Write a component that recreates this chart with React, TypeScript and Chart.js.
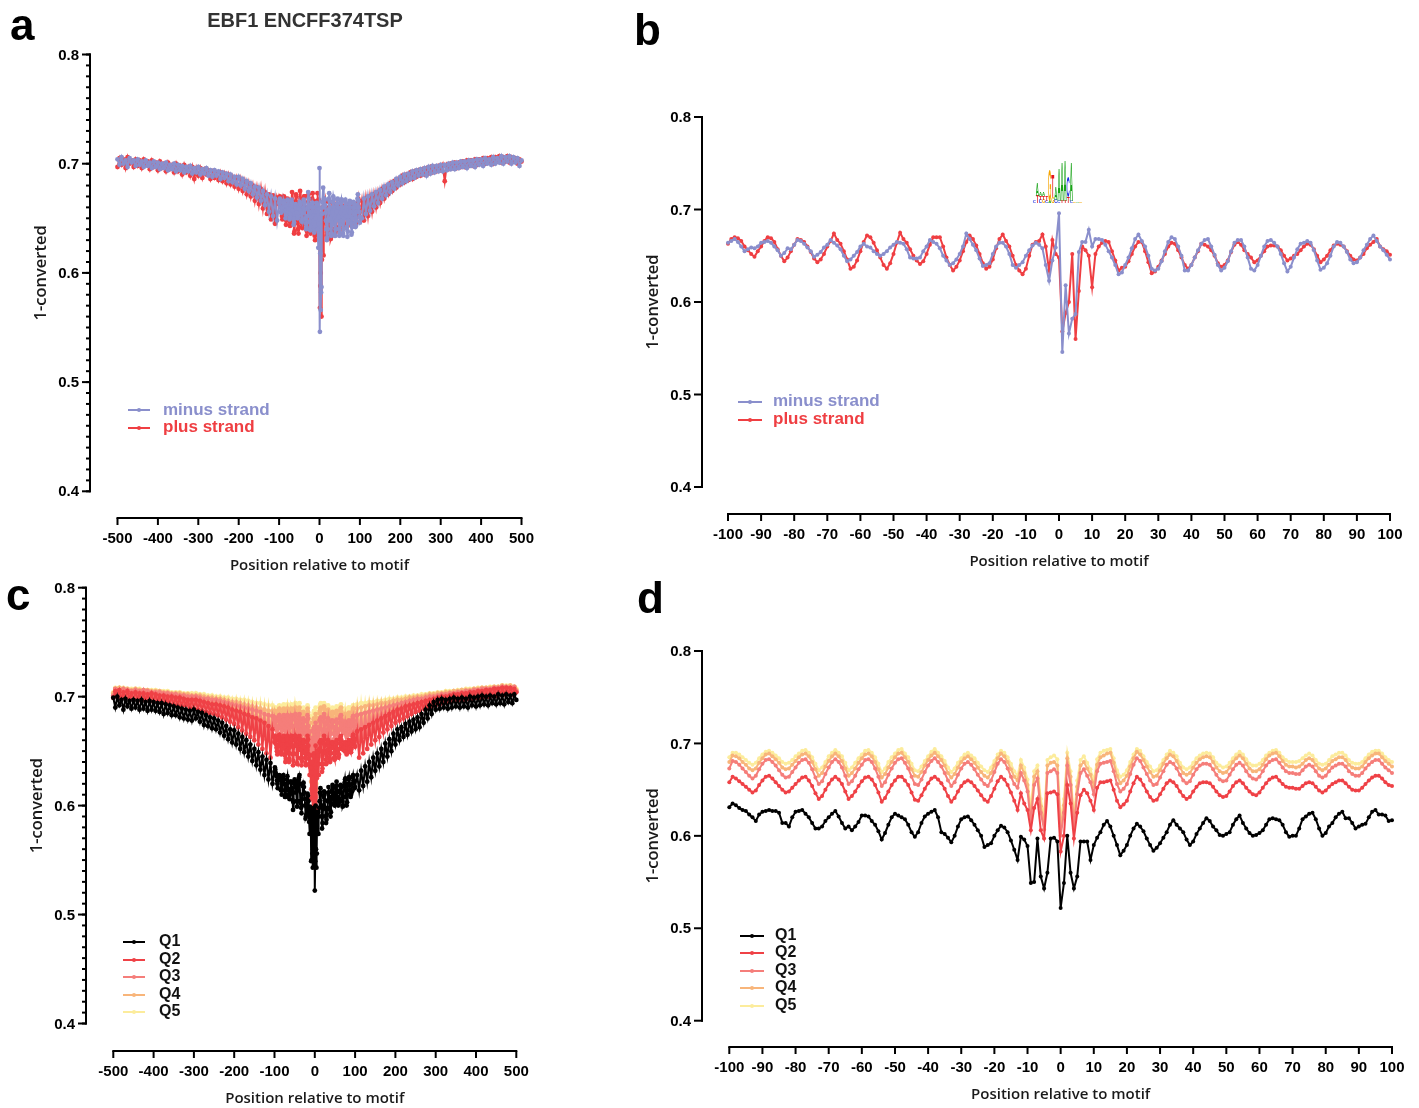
import React, { useEffect, useRef } from "react";
import { Chart, registerables } from "chart.js";
Chart.register(...registerables);

const W = 1419;
const H = 1108;

// ---------- positions (x categories) ----------
const POS_FINE: number[] = [];
for (let p = -100; p <= 100; p++) POS_FINE.push(p);
const POS_LEFT: number[] = [];
for (let p = -500; p <= -105; p += 5) POS_LEFT.push(p);
const POS_RIGHT: number[] = [];
for (let p = 105; p <= 500; p += 5) POS_RIGHT.push(p);

// ---------- tick labels ----------
const Y_TICKS = [0.4, 0.5, 0.6, 0.7, 0.8];
const Y_TICK_LABELS = ["0.4", "0.5", "0.6", "0.7", "0.8"];
const X_TICKS_WIDE = [-500, -400, -300, -200, -100, 0, 100, 200, 300, 400, 500];
const X_TICKS_NARROW = [-100, -90, -80, -70, -60, -50, -40, -30, -20, -10, 0, 10, 20, 30, 40, 50, 60, 70, 80, 90, 100];
const X_TITLE = "Position relative to motif";
const Y_TITLE = "1-converted";
const PANEL_TITLE = "EBF1 ENCFF374TSP";

// ---------- colours ----------
const MINUS_COLOR = "#8a8fcc";
const PLUS_COLOR = "#ef3e42";
const Q_COLORS = ["#000000", "#ef4146", "#f57e7a", "#f8b57a", "#fcec9c"];

// ---------- panel b data: minus / plus strand, positions -100..100 ----------
const MINUS_B = [
  0.664, 0.666, 0.668, 0.665, 0.660, 0.655, 0.657, 0.659, 0.658, 0.660,
  0.664, 0.665, 0.666, 0.664, 0.660, 0.656, 0.650, 0.653, 0.658, 0.657,
  0.662, 0.667, 0.666, 0.663, 0.659, 0.655, 0.649, 0.651, 0.654, 0.659,
  0.662, 0.667, 0.664, 0.661, 0.657, 0.650, 0.644, 0.646, 0.650, 0.654,
  0.660, 0.663, 0.660, 0.659, 0.655, 0.652, 0.650, 0.652, 0.655, 0.659,
  0.662, 0.665, 0.664, 0.663, 0.657, 0.648, 0.647, 0.647, 0.648, 0.655,
  0.660, 0.667, 0.665, 0.663, 0.658, 0.650, 0.645, 0.640, 0.642, 0.646,
  0.652, 0.660, 0.674, 0.668, 0.662, 0.656, 0.647, 0.639, 0.640, 0.642,
  0.652, 0.660, 0.664, 0.664, 0.660, 0.652, 0.640, 0.637, 0.640, 0.643,
  0.650, 0.656, 0.661, 0.664, 0.662, 0.658, 0.640, 0.623, 0.645, 0.659,
  0.696, 0.546, 0.618, 0.566, 0.582, 0.587, 0.654, 0.665, 0.665, 0.678,
  0.660, 0.668, 0.668, 0.667, 0.662, 0.655, 0.648, 0.640, 0.630, 0.632,
  0.640, 0.648, 0.658, 0.668, 0.673, 0.666, 0.660, 0.650, 0.636, 0.634,
  0.636, 0.644, 0.655, 0.665, 0.670, 0.668, 0.660, 0.650, 0.634, 0.634,
  0.640, 0.648, 0.656, 0.663, 0.667, 0.668, 0.660, 0.651, 0.640, 0.634,
  0.637, 0.644, 0.655, 0.664, 0.667, 0.667, 0.660, 0.648, 0.636, 0.634,
  0.640, 0.650, 0.660, 0.666, 0.667, 0.664, 0.660, 0.652, 0.642, 0.633,
  0.638, 0.648, 0.657, 0.663, 0.664, 0.666, 0.664, 0.656, 0.645, 0.635,
  0.637, 0.642, 0.650, 0.660, 0.665, 0.664, 0.660, 0.654, 0.646, 0.642,
  0.643, 0.648, 0.656, 0.662, 0.668, 0.672, 0.666, 0.660, 0.656, 0.651, 0.646,
];
const PLUS_B = [
  0.663, 0.668, 0.670, 0.669, 0.666, 0.660, 0.656, 0.652, 0.649, 0.655,
  0.660, 0.666, 0.670, 0.669, 0.665, 0.657, 0.650, 0.644, 0.648, 0.655,
  0.662, 0.668, 0.667, 0.665, 0.660, 0.654, 0.647, 0.643, 0.646, 0.652,
  0.660, 0.666, 0.674, 0.667, 0.663, 0.655, 0.646, 0.636, 0.638, 0.645,
  0.655, 0.665, 0.672, 0.670, 0.664, 0.656, 0.648, 0.640, 0.636, 0.642,
  0.652, 0.664, 0.675, 0.668, 0.664, 0.657, 0.650, 0.645, 0.641, 0.644,
  0.652, 0.662, 0.670, 0.670, 0.670, 0.660, 0.648, 0.640, 0.634, 0.638,
  0.645, 0.655, 0.665, 0.672, 0.668, 0.661, 0.652, 0.642, 0.636, 0.638,
  0.646, 0.658, 0.668, 0.673, 0.666, 0.660, 0.650, 0.640, 0.634, 0.630,
  0.636, 0.650, 0.662, 0.665, 0.666, 0.673, 0.660, 0.634, 0.667, 0.652,
  0.648, 0.568, 0.588, 0.600, 0.652, 0.560, 0.612, 0.660, 0.656, 0.650,
  0.616, 0.652, 0.660, 0.664, 0.666, 0.665, 0.655, 0.645, 0.634, 0.637,
  0.638, 0.644, 0.652, 0.660, 0.665, 0.665, 0.655, 0.643, 0.631, 0.633,
  0.638, 0.645, 0.652, 0.660, 0.664, 0.663, 0.656, 0.648, 0.640, 0.636,
  0.640, 0.648, 0.655, 0.663, 0.662, 0.660, 0.656, 0.650, 0.642, 0.638,
  0.640, 0.645, 0.654, 0.662, 0.665, 0.662, 0.656, 0.652, 0.648, 0.643,
  0.645, 0.650, 0.655, 0.660, 0.661, 0.661, 0.660, 0.656, 0.650, 0.645,
  0.647, 0.650, 0.652, 0.656, 0.660, 0.663, 0.662, 0.657, 0.650, 0.643,
  0.646, 0.650, 0.656, 0.661, 0.663, 0.662, 0.660, 0.655, 0.650, 0.646,
  0.645, 0.648, 0.652, 0.658, 0.662, 0.665, 0.668, 0.660, 0.657, 0.655, 0.651,
];

// ---------- panel a outer data (every 5 bp beyond +-100) ----------
const MINUS_A_LEFT = [
  0.704, 0.699, 0.706, 0.700, 0.703, 0.697, 0.705, 0.701, 0.703, 0.698,
  0.704, 0.699, 0.702, 0.697, 0.703, 0.698, 0.701, 0.696, 0.702, 0.697,
  0.701, 0.695, 0.700, 0.696, 0.701, 0.694, 0.699, 0.695, 0.700, 0.693,
  0.699, 0.694, 0.698, 0.692, 0.697, 0.693, 0.698, 0.691, 0.696, 0.692,
  0.697, 0.690, 0.695, 0.691, 0.696, 0.689, 0.694, 0.688, 0.694, 0.689,
  0.693, 0.686, 0.692, 0.687, 0.691, 0.684, 0.690, 0.683, 0.688, 0.681,
  0.688, 0.680, 0.686, 0.677, 0.684, 0.675, 0.682, 0.672, 0.679, 0.669,
  0.678, 0.666, 0.675, 0.662, 0.672, 0.656, 0.670, 0.652, 0.668, 0.648,
];
const PLUS_A_LEFT = [
  0.697, 0.705, 0.699, 0.704, 0.696, 0.706, 0.700, 0.703, 0.697, 0.704,
  0.698, 0.703, 0.696, 0.704, 0.699, 0.702, 0.695, 0.703, 0.697, 0.701,
  0.694, 0.702, 0.696, 0.700, 0.693, 0.701, 0.695, 0.699, 0.692, 0.700,
  0.693, 0.698, 0.690, 0.699, 0.692, 0.697, 0.689, 0.697, 0.686, 0.696,
  0.689, 0.696, 0.687, 0.695, 0.690, 0.694, 0.686, 0.693, 0.687, 0.692,
  0.685, 0.692, 0.684, 0.691, 0.682, 0.690, 0.681, 0.688, 0.679, 0.687,
  0.677, 0.686, 0.675, 0.684, 0.672, 0.682, 0.670, 0.680, 0.666, 0.678,
  0.663, 0.677, 0.659, 0.674, 0.654, 0.672, 0.649, 0.671, 0.645, 0.669,
];
const MINUS_A_RIGHT = [
  0.650, 0.668, 0.654, 0.670, 0.657, 0.672, 0.661, 0.674, 0.664, 0.676,
  0.668, 0.679, 0.671, 0.681, 0.674, 0.683, 0.677, 0.686, 0.680, 0.688,
  0.682, 0.690, 0.684, 0.691, 0.686, 0.693, 0.687, 0.694, 0.689, 0.695,
  0.690, 0.696, 0.689, 0.697, 0.691, 0.698, 0.692, 0.698, 0.693, 0.699,
  0.693, 0.699, 0.694, 0.700, 0.695, 0.701, 0.695, 0.701, 0.696, 0.702,
  0.697, 0.702, 0.696, 0.703, 0.698, 0.703, 0.697, 0.704, 0.699, 0.704,
  0.698, 0.705, 0.700, 0.704, 0.699, 0.706, 0.700, 0.705, 0.701, 0.707,
  0.700, 0.706, 0.702, 0.707, 0.700, 0.706, 0.701, 0.705, 0.698, 0.703,
];
const PLUS_A_RIGHT = [
  0.666, 0.648, 0.668, 0.652, 0.670, 0.656, 0.672, 0.660, 0.674, 0.664,
  0.677, 0.668, 0.679, 0.672, 0.682, 0.675, 0.684, 0.678, 0.686, 0.681,
  0.689, 0.683, 0.690, 0.685, 0.692, 0.686, 0.693, 0.688, 0.694, 0.689,
  0.695, 0.690, 0.696, 0.691, 0.697, 0.692, 0.697, 0.693, 0.698, 0.694,
  0.699, 0.684, 0.699, 0.695, 0.700, 0.696, 0.701, 0.696, 0.701, 0.697,
  0.702, 0.697, 0.703, 0.698, 0.703, 0.698, 0.704, 0.699, 0.704, 0.700,
  0.705, 0.700, 0.705, 0.701, 0.706, 0.700, 0.706, 0.702, 0.707, 0.701,
  0.706, 0.702, 0.707, 0.701, 0.706, 0.702, 0.705, 0.700, 0.704, 0.702,
];

// ---------- panel d data: Q1..Q5, positions -100..100 ----------
const Q1_D = [
  0.631, 0.635, 0.633, 0.630, 0.628, 0.627, 0.623, 0.620, 0.616, 0.623,
  0.626, 0.627, 0.628, 0.627, 0.627, 0.625, 0.614, 0.614, 0.610, 0.620,
  0.626, 0.627, 0.628, 0.624, 0.620, 0.614, 0.608, 0.608, 0.610, 0.616,
  0.620, 0.624, 0.627, 0.621, 0.614, 0.608, 0.610, 0.606, 0.610, 0.615,
  0.622, 0.622, 0.621, 0.616, 0.612, 0.605, 0.596, 0.603, 0.612, 0.620,
  0.624, 0.622, 0.620, 0.618, 0.612, 0.604, 0.599, 0.604, 0.614, 0.621,
  0.624, 0.626, 0.628, 0.620, 0.604, 0.602, 0.598, 0.593, 0.600, 0.610,
  0.618, 0.620, 0.621, 0.617, 0.612, 0.606, 0.600, 0.588, 0.590, 0.592,
  0.600, 0.606, 0.611, 0.609, 0.604, 0.595, 0.585, 0.574, 0.599, 0.596,
  0.589, 0.549, 0.550, 0.597, 0.556, 0.543, 0.560, 0.597, 0.598, 0.594,
  0.522, 0.549, 0.600, 0.560, 0.543, 0.556, 0.594, 0.594, 0.594, 0.574,
  0.590, 0.598, 0.604, 0.612, 0.616, 0.610, 0.600, 0.590, 0.579, 0.584,
  0.590, 0.600, 0.608, 0.613, 0.610, 0.605, 0.597, 0.590, 0.584, 0.587,
  0.592, 0.598, 0.604, 0.612, 0.617, 0.612, 0.608, 0.604, 0.596, 0.590,
  0.594, 0.602, 0.608, 0.614, 0.619, 0.616, 0.610, 0.606, 0.601, 0.600,
  0.602, 0.604, 0.612, 0.618, 0.622, 0.614, 0.608, 0.603, 0.600, 0.601,
  0.603, 0.606, 0.612, 0.618, 0.619, 0.618, 0.617, 0.612, 0.604, 0.599,
  0.600, 0.600, 0.608, 0.618, 0.621, 0.624, 0.625, 0.618, 0.608, 0.600,
  0.603, 0.610, 0.614, 0.620, 0.624, 0.626, 0.619, 0.619, 0.614, 0.608,
  0.610, 0.612, 0.613, 0.620, 0.626, 0.628, 0.623, 0.623, 0.622, 0.616, 0.617,
];
const Q2_D = [
  0.658, 0.664, 0.662, 0.659, 0.656, 0.653, 0.650, 0.647, 0.649, 0.655,
  0.660, 0.664, 0.665, 0.662, 0.658, 0.654, 0.650, 0.647, 0.648, 0.652,
  0.656, 0.660, 0.663, 0.664, 0.660, 0.654, 0.646, 0.640, 0.643, 0.650,
  0.656, 0.661, 0.664, 0.661, 0.656, 0.648, 0.640, 0.643, 0.648, 0.654,
  0.659, 0.663, 0.664, 0.661, 0.655, 0.647, 0.637, 0.641, 0.648, 0.655,
  0.660, 0.664, 0.664, 0.660, 0.655, 0.647, 0.639, 0.638, 0.644, 0.651,
  0.657, 0.662, 0.664, 0.661, 0.657, 0.651, 0.643, 0.637, 0.641, 0.648,
  0.654, 0.658, 0.660, 0.658, 0.654, 0.649, 0.644, 0.639, 0.637, 0.643,
  0.651, 0.659, 0.664, 0.661, 0.655, 0.647, 0.638, 0.628, 0.646, 0.635,
  0.628, 0.606, 0.630, 0.640, 0.606, 0.597, 0.646, 0.647, 0.648, 0.645,
  0.583, 0.600, 0.655, 0.635, 0.597, 0.625, 0.644, 0.650, 0.646, 0.638,
  0.628, 0.652, 0.658, 0.658, 0.659, 0.660, 0.650, 0.638, 0.631, 0.634,
  0.638, 0.648, 0.657, 0.664, 0.661, 0.655, 0.648, 0.642, 0.638, 0.639,
  0.645, 0.651, 0.657, 0.660, 0.658, 0.654, 0.648, 0.643, 0.640, 0.642,
  0.648, 0.653, 0.657, 0.658, 0.658, 0.657, 0.653, 0.648, 0.644, 0.642,
  0.643, 0.648, 0.654, 0.658, 0.660, 0.657, 0.652, 0.648, 0.645, 0.644,
  0.647, 0.652, 0.657, 0.661, 0.663, 0.664, 0.660, 0.656, 0.653, 0.652,
  0.652, 0.651, 0.651, 0.654, 0.657, 0.658, 0.657, 0.653, 0.649, 0.647,
  0.649, 0.653, 0.656, 0.658, 0.660, 0.660, 0.657, 0.653, 0.650, 0.649,
  0.649, 0.652, 0.656, 0.660, 0.663, 0.665, 0.665, 0.662, 0.658, 0.655, 0.654,
];
const Q3_D = [
  0.673, 0.681, 0.680, 0.677, 0.673, 0.669, 0.665, 0.662, 0.665, 0.672,
  0.678, 0.682, 0.683, 0.680, 0.676, 0.671, 0.666, 0.663, 0.664, 0.669,
  0.674, 0.679, 0.682, 0.683, 0.679, 0.672, 0.663, 0.656, 0.659, 0.667,
  0.674, 0.680, 0.683, 0.680, 0.674, 0.665, 0.656, 0.659, 0.665, 0.672,
  0.677, 0.682, 0.683, 0.680, 0.673, 0.664, 0.654, 0.658, 0.666, 0.673,
  0.679, 0.683, 0.684, 0.679, 0.673, 0.664, 0.656, 0.655, 0.661, 0.669,
  0.676, 0.681, 0.684, 0.680, 0.675, 0.668, 0.660, 0.654, 0.658, 0.666,
  0.673, 0.678, 0.680, 0.677, 0.672, 0.666, 0.661, 0.656, 0.654, 0.660,
  0.669, 0.678, 0.683, 0.680, 0.673, 0.664, 0.656, 0.652, 0.668, 0.660,
  0.648, 0.615, 0.655, 0.662, 0.625, 0.607, 0.668, 0.670, 0.672, 0.668,
  0.600, 0.625, 0.676, 0.655, 0.608, 0.645, 0.668, 0.672, 0.665, 0.658,
  0.645, 0.670, 0.678, 0.679, 0.680, 0.681, 0.670, 0.656, 0.648, 0.651,
  0.656, 0.667, 0.677, 0.684, 0.681, 0.674, 0.667, 0.660, 0.655, 0.656,
  0.663, 0.670, 0.677, 0.680, 0.678, 0.673, 0.666, 0.660, 0.657, 0.659,
  0.666, 0.672, 0.676, 0.678, 0.678, 0.677, 0.672, 0.666, 0.661, 0.659,
  0.660, 0.666, 0.672, 0.677, 0.679, 0.676, 0.670, 0.665, 0.662, 0.661,
  0.664, 0.670, 0.676, 0.680, 0.682, 0.683, 0.679, 0.674, 0.670, 0.668,
  0.668, 0.667, 0.667, 0.671, 0.675, 0.677, 0.675, 0.670, 0.665, 0.663,
  0.665, 0.670, 0.674, 0.676, 0.678, 0.678, 0.675, 0.670, 0.667, 0.665,
  0.665, 0.668, 0.673, 0.677, 0.680, 0.682, 0.682, 0.678, 0.674, 0.671, 0.668,
];
const Q4_D = [
  0.680, 0.687, 0.686, 0.684, 0.680, 0.677, 0.673, 0.671, 0.673, 0.679,
  0.684, 0.688, 0.689, 0.686, 0.683, 0.679, 0.674, 0.672, 0.673, 0.677,
  0.681, 0.685, 0.688, 0.689, 0.686, 0.680, 0.672, 0.665, 0.668, 0.675,
  0.681, 0.686, 0.689, 0.686, 0.681, 0.673, 0.665, 0.668, 0.673, 0.679,
  0.684, 0.688, 0.689, 0.686, 0.680, 0.672, 0.663, 0.667, 0.674, 0.680,
  0.685, 0.689, 0.690, 0.685, 0.680, 0.672, 0.665, 0.664, 0.669, 0.676,
  0.682, 0.687, 0.690, 0.686, 0.682, 0.676, 0.668, 0.663, 0.667, 0.674,
  0.680, 0.684, 0.686, 0.683, 0.679, 0.674, 0.669, 0.665, 0.663, 0.668,
  0.676, 0.684, 0.689, 0.686, 0.680, 0.672, 0.664, 0.660, 0.676, 0.668,
  0.655, 0.622, 0.664, 0.670, 0.632, 0.614, 0.676, 0.679, 0.680, 0.676,
  0.610, 0.633, 0.684, 0.664, 0.614, 0.653, 0.676, 0.680, 0.673, 0.666,
  0.654, 0.677, 0.685, 0.687, 0.689, 0.690, 0.679, 0.665, 0.657, 0.660,
  0.665, 0.675, 0.684, 0.691, 0.688, 0.682, 0.675, 0.669, 0.664, 0.665,
  0.671, 0.678, 0.684, 0.688, 0.686, 0.681, 0.674, 0.668, 0.666, 0.668,
  0.674, 0.679, 0.683, 0.685, 0.686, 0.685, 0.680, 0.674, 0.670, 0.668,
  0.669, 0.674, 0.680, 0.684, 0.687, 0.684, 0.678, 0.673, 0.670, 0.670,
  0.672, 0.677, 0.683, 0.687, 0.689, 0.690, 0.686, 0.681, 0.677, 0.675,
  0.675, 0.674, 0.675, 0.678, 0.682, 0.684, 0.682, 0.677, 0.673, 0.671,
  0.673, 0.677, 0.681, 0.683, 0.685, 0.685, 0.682, 0.677, 0.674, 0.673,
  0.673, 0.675, 0.680, 0.684, 0.687, 0.689, 0.689, 0.685, 0.681, 0.678, 0.675,
];
const Q5_D = [
  0.685, 0.690, 0.690, 0.688, 0.685, 0.682, 0.679, 0.677, 0.679, 0.684,
  0.688, 0.691, 0.692, 0.690, 0.687, 0.684, 0.680, 0.678, 0.679, 0.682,
  0.686, 0.689, 0.692, 0.693, 0.690, 0.685, 0.678, 0.671, 0.674, 0.680,
  0.686, 0.690, 0.693, 0.690, 0.686, 0.679, 0.671, 0.674, 0.679, 0.684,
  0.688, 0.692, 0.693, 0.690, 0.685, 0.678, 0.669, 0.673, 0.680, 0.685,
  0.689, 0.693, 0.694, 0.689, 0.685, 0.678, 0.671, 0.670, 0.675, 0.681,
  0.686, 0.691, 0.694, 0.690, 0.686, 0.681, 0.674, 0.669, 0.673, 0.679,
  0.684, 0.688, 0.690, 0.687, 0.684, 0.679, 0.675, 0.671, 0.669, 0.674,
  0.681, 0.688, 0.692, 0.690, 0.685, 0.678, 0.670, 0.665, 0.682, 0.674,
  0.661, 0.630, 0.670, 0.676, 0.640, 0.621, 0.682, 0.685, 0.687, 0.683,
  0.618, 0.640, 0.690, 0.670, 0.620, 0.660, 0.682, 0.686, 0.679, 0.672,
  0.660, 0.683, 0.690, 0.692, 0.693, 0.694, 0.684, 0.671, 0.664, 0.666,
  0.671, 0.680, 0.688, 0.694, 0.692, 0.686, 0.680, 0.675, 0.670, 0.671,
  0.676, 0.682, 0.688, 0.692, 0.690, 0.686, 0.679, 0.674, 0.672, 0.674,
  0.679, 0.684, 0.687, 0.689, 0.690, 0.689, 0.685, 0.679, 0.676, 0.674,
  0.675, 0.679, 0.684, 0.688, 0.691, 0.688, 0.683, 0.678, 0.676, 0.676,
  0.678, 0.682, 0.687, 0.690, 0.692, 0.693, 0.690, 0.685, 0.682, 0.680,
  0.680, 0.680, 0.681, 0.684, 0.687, 0.689, 0.687, 0.682, 0.678, 0.677,
  0.678, 0.682, 0.686, 0.688, 0.690, 0.690, 0.687, 0.682, 0.679, 0.678,
  0.678, 0.680, 0.684, 0.688, 0.691, 0.692, 0.692, 0.689, 0.685, 0.682, 0.680,
];

// ---------- panel c outer data (every 5 bp beyond +-100) ----------
const Q1_C_LEFT = [
  0.699, 0.690, 0.700, 0.692, 0.697, 0.688, 0.698, 0.691, 0.696, 0.689,
  0.697, 0.690, 0.696, 0.688, 0.697, 0.689, 0.695, 0.687, 0.696, 0.688,
  0.695, 0.687, 0.694, 0.686, 0.694, 0.684, 0.693, 0.685, 0.692, 0.683,
  0.691, 0.683, 0.690, 0.681, 0.689, 0.680, 0.688, 0.679, 0.687, 0.678,
  0.688, 0.680, 0.686, 0.677, 0.685, 0.674, 0.683, 0.673, 0.681, 0.671,
  0.680, 0.670, 0.678, 0.667, 0.676, 0.664, 0.673, 0.661, 0.670, 0.658,
  0.669, 0.656, 0.666, 0.652, 0.663, 0.649, 0.660, 0.645, 0.656, 0.641,
  0.652, 0.637, 0.649, 0.633, 0.645, 0.628, 0.642, 0.624, 0.639, 0.620,
];
const Q1_C_RIGHT = [
  0.628, 0.614, 0.632, 0.618, 0.636, 0.622, 0.640, 0.626, 0.644, 0.632,
  0.648, 0.636, 0.652, 0.640, 0.657, 0.645, 0.661, 0.650, 0.666, 0.656,
  0.670, 0.660, 0.672, 0.663, 0.675, 0.665, 0.677, 0.668, 0.679, 0.670,
  0.681, 0.672, 0.684, 0.676, 0.688, 0.680, 0.692, 0.684, 0.695, 0.688,
  0.697, 0.689, 0.698, 0.690, 0.697, 0.689, 0.698, 0.690, 0.699, 0.691,
  0.698, 0.690, 0.699, 0.691, 0.698, 0.690, 0.700, 0.692, 0.699, 0.691,
  0.700, 0.692, 0.701, 0.693, 0.700, 0.692, 0.701, 0.694, 0.700, 0.693,
  0.702, 0.694, 0.701, 0.693, 0.702, 0.695, 0.701, 0.694, 0.702, 0.697,
];
const Q2_C_LEFT = [
  0.699, 0.705, 0.700, 0.706, 0.698, 0.704, 0.699, 0.705, 0.698, 0.703,
  0.697, 0.704, 0.698, 0.703, 0.696, 0.703, 0.697, 0.702, 0.696, 0.703,
  0.695, 0.702, 0.696, 0.701, 0.694, 0.701, 0.695, 0.700, 0.693, 0.700,
  0.693, 0.699, 0.692, 0.699, 0.691, 0.698, 0.692, 0.697, 0.690, 0.697,
  0.689, 0.697, 0.688, 0.696, 0.687, 0.695, 0.686, 0.694, 0.685, 0.693,
  0.684, 0.693, 0.683, 0.692, 0.681, 0.691, 0.679, 0.690, 0.677, 0.688,
  0.675, 0.687, 0.672, 0.686, 0.669, 0.684, 0.666, 0.683, 0.663, 0.681,
  0.660, 0.680, 0.656, 0.678, 0.652, 0.676, 0.648, 0.673, 0.644, 0.670,
];
const Q2_C_RIGHT = [
  0.668, 0.644, 0.670, 0.648, 0.672, 0.652, 0.674, 0.656, 0.676, 0.660,
  0.678, 0.663, 0.680, 0.667, 0.682, 0.670, 0.684, 0.673, 0.686, 0.676,
  0.688, 0.678, 0.689, 0.680, 0.691, 0.682, 0.692, 0.684, 0.693, 0.686,
  0.694, 0.687, 0.695, 0.689, 0.696, 0.690, 0.697, 0.691, 0.698, 0.692,
  0.699, 0.693, 0.700, 0.694, 0.700, 0.695, 0.701, 0.696, 0.702, 0.696,
  0.702, 0.697, 0.703, 0.697, 0.703, 0.698, 0.704, 0.698, 0.704, 0.699,
  0.705, 0.699, 0.705, 0.700, 0.706, 0.700, 0.706, 0.701, 0.707, 0.701,
  0.707, 0.702, 0.708, 0.702, 0.708, 0.703, 0.708, 0.702, 0.707, 0.704,
];
const Q3_C_LEFT = [
  0.701, 0.707, 0.702, 0.706, 0.700, 0.707, 0.701, 0.706, 0.700, 0.705,
  0.700, 0.706, 0.701, 0.705, 0.699, 0.706, 0.700, 0.705, 0.699, 0.704,
  0.698, 0.704, 0.699, 0.704, 0.697, 0.703, 0.698, 0.703, 0.696, 0.702,
  0.696, 0.702, 0.695, 0.701, 0.694, 0.701, 0.695, 0.700, 0.693, 0.700,
  0.693, 0.700, 0.692, 0.699, 0.691, 0.698, 0.690, 0.698, 0.689, 0.697,
  0.688, 0.697, 0.687, 0.696, 0.686, 0.695, 0.684, 0.694, 0.683, 0.693,
  0.681, 0.692, 0.679, 0.691, 0.677, 0.690, 0.675, 0.689, 0.672, 0.688,
  0.670, 0.687, 0.667, 0.686, 0.664, 0.684, 0.661, 0.683, 0.659, 0.682,
];
const Q3_C_RIGHT = [
  0.683, 0.660, 0.684, 0.663, 0.685, 0.666, 0.686, 0.669, 0.687, 0.672,
  0.688, 0.675, 0.689, 0.677, 0.690, 0.679, 0.691, 0.681, 0.692, 0.683,
  0.693, 0.685, 0.694, 0.687, 0.695, 0.688, 0.696, 0.689, 0.697, 0.690,
  0.698, 0.691, 0.698, 0.692, 0.699, 0.693, 0.700, 0.694, 0.700, 0.695,
  0.701, 0.696, 0.702, 0.696, 0.702, 0.697, 0.703, 0.697, 0.703, 0.698,
  0.704, 0.698, 0.704, 0.699, 0.705, 0.699, 0.705, 0.700, 0.706, 0.700,
  0.706, 0.701, 0.707, 0.701, 0.707, 0.702, 0.707, 0.702, 0.708, 0.703,
  0.708, 0.703, 0.709, 0.703, 0.709, 0.704, 0.708, 0.704, 0.709, 0.705,
];
const Q4_C_LEFT = [
  0.703, 0.707, 0.703, 0.708, 0.702, 0.707, 0.703, 0.707, 0.702, 0.706,
  0.702, 0.707, 0.702, 0.706, 0.701, 0.706, 0.702, 0.706, 0.701, 0.705,
  0.700, 0.705, 0.701, 0.705, 0.699, 0.704, 0.700, 0.704, 0.699, 0.703,
  0.698, 0.703, 0.698, 0.703, 0.697, 0.702, 0.697, 0.702, 0.696, 0.701,
  0.695, 0.701, 0.695, 0.701, 0.694, 0.700, 0.693, 0.699, 0.692, 0.699,
  0.691, 0.698, 0.690, 0.698, 0.689, 0.697, 0.688, 0.696, 0.687, 0.695,
  0.685, 0.695, 0.684, 0.694, 0.682, 0.693, 0.680, 0.692, 0.678, 0.691,
  0.676, 0.690, 0.674, 0.689, 0.672, 0.688, 0.670, 0.687, 0.668, 0.687,
];
const Q4_C_RIGHT = [
  0.689, 0.667, 0.690, 0.670, 0.691, 0.673, 0.692, 0.676, 0.692, 0.678,
  0.693, 0.680, 0.694, 0.682, 0.694, 0.684, 0.695, 0.686, 0.696, 0.687,
  0.697, 0.689, 0.697, 0.690, 0.698, 0.691, 0.699, 0.692, 0.699, 0.693,
  0.700, 0.694, 0.700, 0.695, 0.701, 0.695, 0.702, 0.696, 0.702, 0.697,
  0.703, 0.697, 0.703, 0.698, 0.704, 0.698, 0.704, 0.699, 0.705, 0.699,
  0.705, 0.700, 0.706, 0.700, 0.706, 0.701, 0.706, 0.701, 0.707, 0.702,
  0.707, 0.702, 0.708, 0.703, 0.708, 0.703, 0.708, 0.704, 0.709, 0.704,
  0.709, 0.704, 0.710, 0.705, 0.709, 0.705, 0.710, 0.705, 0.709, 0.706,
];
const Q5_C_LEFT = [
  0.704, 0.708, 0.704, 0.708, 0.703, 0.708, 0.704, 0.707, 0.703, 0.707,
  0.703, 0.707, 0.703, 0.707, 0.702, 0.706, 0.703, 0.706, 0.702, 0.706,
  0.701, 0.706, 0.702, 0.705, 0.701, 0.705, 0.701, 0.705, 0.700, 0.704,
  0.700, 0.704, 0.699, 0.704, 0.699, 0.703, 0.699, 0.703, 0.698, 0.703,
  0.697, 0.703, 0.697, 0.702, 0.696, 0.702, 0.696, 0.701, 0.695, 0.701,
  0.694, 0.700, 0.693, 0.700, 0.692, 0.699, 0.692, 0.699, 0.691, 0.698,
  0.689, 0.698, 0.688, 0.697, 0.687, 0.697, 0.685, 0.696, 0.684, 0.695,
  0.682, 0.694, 0.680, 0.694, 0.679, 0.693, 0.677, 0.692, 0.675, 0.692,
];
const Q5_C_RIGHT = [
  0.693, 0.674, 0.694, 0.677, 0.694, 0.679, 0.695, 0.681, 0.695, 0.683,
  0.696, 0.685, 0.696, 0.687, 0.697, 0.688, 0.698, 0.690, 0.698, 0.691,
  0.699, 0.692, 0.699, 0.693, 0.700, 0.694, 0.700, 0.695, 0.701, 0.696,
  0.701, 0.696, 0.702, 0.697, 0.702, 0.698, 0.703, 0.698, 0.703, 0.699,
  0.704, 0.699, 0.704, 0.700, 0.705, 0.700, 0.705, 0.701, 0.705, 0.701,
  0.706, 0.701, 0.706, 0.702, 0.707, 0.702, 0.707, 0.703, 0.707, 0.703,
  0.708, 0.703, 0.708, 0.704, 0.708, 0.704, 0.709, 0.705, 0.709, 0.705,
  0.709, 0.705, 0.710, 0.705, 0.710, 0.706, 0.710, 0.706, 0.709, 0.707,
];

// ---------- motif logo (bits per letter, bottom to top) ----------
const LOGO_COLUMNS: [string, number][][] = [
  [["C", 0.1]],
  [["T", 0.35], ["A", 0.6]],
  [["C", 0.15], ["T", 0.2], ["A", 0.2]],
  [["G", 0.15], ["T", 0.2], ["A", 0.2]],
  [["C", 0.1], ["T", 0.25]],
  [["A", 0.1], ["G", 1.45]],
  [["G", 0.3], ["T", 1.0]],
  [["C", 0.15], ["A", 0.6]],
  [["C", 0.1], ["A", 1.5]],
  [["T", 0.1], ["A", 1.8]],
  [["T", 0.1], ["A", 1.85]],
  [["T", 0.3], ["C", 1.0]],
  [["C", 0.1], ["A", 1.8]],
  [["G", 0.05]],
  [["A", 0.06]],
  [["G", 0.05]],
];
const LOGO_COLORS: Record<string, string> = { A: "#17a317", C: "#1f2fe0", G: "#f5a400", T: "#e3141b" };

// ---------- helpers ----------
const pts = (xs: number[], ys: number[]) => ys.map((y, i) => ({ x: xs[i], y }));
const wide = (left: number[], fine: number[], right: number[]) => [
  ...pts(POS_LEFT, left),
  ...pts(POS_FINE, fine),
  ...pts(POS_RIGHT, right),
];

const TICK_FONT = 'bold 15px "Liberation Sans", Arial, sans-serif';
const X_TITLE_FONT = '600 15px "Open Sans", "Noto Sans", sans-serif';
const Y_TITLE_FONT = '600 16.5px "Open Sans", "Noto Sans", sans-serif';

const axesPlugin = {
  id: "offsetAxes",
  afterDraw(chart: any, _args: any, o: any) {
    if (!o || !o.enabled) return;
    const ctx = chart.ctx;
    const xs = chart.scales.x;
    const ys = chart.scales.y;
    ctx.save();
    ctx.strokeStyle = "#000";
    ctx.fillStyle = "#000";
    ctx.lineWidth = 2;
    const ax = o.yAxisX;
    const yTop = ys.getPixelForValue(Y_TICKS[Y_TICKS.length - 1]);
    const yBot = ys.getPixelForValue(Y_TICKS[0]);
    ctx.beginPath();
    ctx.moveTo(ax, yTop - 1);
    ctx.lineTo(ax, yBot + 1);
    ctx.stroke();
    if (o.minorStep) {
      const n = Math.round((Y_TICKS[Y_TICKS.length - 1] - Y_TICKS[0]) / o.minorStep);
      for (let i = 0; i <= n; i++) {
        const y = ys.getPixelForValue(Y_TICKS[0] + i * o.minorStep);
        ctx.beginPath();
        ctx.moveTo(ax, y);
        ctx.lineTo(ax - o.minorLen, y);
        ctx.stroke();
      }
    }
    ctx.font = TICK_FONT;
    ctx.textAlign = "right";
    ctx.textBaseline = "middle";
    Y_TICKS.forEach((t, i) => {
      const y = ys.getPixelForValue(t);
      ctx.beginPath();
      ctx.moveTo(ax + 1, y);
      ctx.lineTo(ax - o.majorLen, y);
      ctx.stroke();
      ctx.fillText(Y_TICK_LABELS[i], ax - o.majorLen - 3, y + 1);
    });
    // x axis
    const ay = o.xAxisY;
    const xt: number[] = o.xTicks;
    const xl = xs.getPixelForValue(xt[0]);
    const xr = xs.getPixelForValue(xt[xt.length - 1]);
    ctx.beginPath();
    ctx.moveTo(xl - 1, ay);
    ctx.lineTo(xr + 1, ay);
    ctx.stroke();
    ctx.textAlign = "center";
    xt.forEach((t) => {
      const x = xs.getPixelForValue(t);
      ctx.beginPath();
      ctx.moveTo(x, ay);
      ctx.lineTo(x, ay + 7);
      ctx.stroke();
      ctx.fillText(String(t), x, ay + 21);
    });
    // titles
    ctx.font = X_TITLE_FONT;
    ctx.fillStyle = "#1a1a1a";
    ctx.fillText(X_TITLE, (xl + xr) / 2, ay + 48);
    ctx.font = Y_TITLE_FONT;
    ctx.save();
    ctx.translate(ax - 49, (yTop + yBot) / 2);
    ctx.rotate(-Math.PI / 2);
    ctx.fillText(Y_TITLE, 0, 0);
    ctx.restore();
    ctx.restore();
  },
};

const logoPlugin = {
  id: "motifLogo",
  afterDatasetsDraw(chart: any, _args: any, o: any) {
    if (!o || !o.enabled) return;
    const ctx = chart.ctx;
    const xs = chart.scales.x;
    const ys = chart.scales.y;
    const x0 = xs.getPixelForValue(o.fromPos);
    const x1 = xs.getPixelForValue(o.toPos);
    const base = ys.getPixelForValue(o.baseValue);
    const top2 = ys.getPixelForValue(o.topValue);
    const pxPerBit = (base - top2) / 2;
    const colW = (x1 - x0) / LOGO_COLUMNS.length;
    ctx.save();
    ctx.font = 'bold 100px "Liberation Sans", Arial, sans-serif';
    ctx.textBaseline = "alphabetic";
    ctx.textAlign = "left";
    LOGO_COLUMNS.forEach((col, ci) => {
      let yb = base;
      col.forEach(([letter, bits]) => {
        const h = bits * pxPerBit;
        if (h < 0.3) return;
        const m = ctx.measureText(letter);
        const gw = m.actualBoundingBoxRight + m.actualBoundingBoxLeft;
        const gh = m.actualBoundingBoxAscent + m.actualBoundingBoxDescent;
        ctx.save();
        ctx.translate(x0 + ci * colW, yb);
        ctx.scale((colW * 0.95) / gw, h / gh);
        ctx.fillStyle = LOGO_COLORS[letter];
        ctx.fillText(letter, m.actualBoundingBoxLeft, -m.actualBoundingBoxDescent);
        ctx.restore();
        yb -= h;
      });
    });
    ctx.restore();
  },
};

type DS = { label: string; color: string; data: { x: number; y: number }[] };
type PanelCfg = {
  xMin: number;
  xMax: number;
  left: number;
  right: number;
  top: number;
  bottom: number;
  yAxisX: number;
  xAxisY: number;
  minorStep: number;
  majorLen: number;
  minorLen: number;
  xTicks: number[];
  pointRadius: number;
  datasets: DS[];
  logo?: boolean;
};

function PanelChart({ cfg }: { cfg: PanelCfg }) {
  const ref = useRef<HTMLCanvasElement | null>(null);
  useEffect(() => {
    if (!ref.current) return;
    const chart = new Chart(ref.current, {
      type: "line",
      data: {
        datasets: cfg.datasets.map((d) => ({
          label: d.label,
          data: d.data,
          borderColor: d.color,
          backgroundColor: d.color,
          pointBackgroundColor: d.color,
          pointBorderColor: d.color,
          borderWidth: 2,
          pointRadius: cfg.pointRadius,
          pointBorderWidth: 0,
          pointHoverRadius: cfg.pointRadius,
          tension: 0,
          clip: false,
        })),
      },
      options: {
        responsive: false,
        animation: false,
        events: [],
        layout: {
          padding: { left: cfg.left, right: W - cfg.right, top: cfg.top, bottom: H - cfg.bottom },
        },
        scales: {
          x: { type: "linear", min: cfg.xMin, max: cfg.xMax, display: false },
          y: { type: "linear", min: Y_TICKS[0], max: Y_TICKS[Y_TICKS.length - 1], display: false },
        },
        plugins: {
          legend: { display: false },
          tooltip: { enabled: false },
          offsetAxes: {
            enabled: true,
            yAxisX: cfg.yAxisX,
            xAxisY: cfg.xAxisY,
            minorStep: cfg.minorStep,
            majorLen: cfg.majorLen,
            minorLen: cfg.minorLen,
            xTicks: cfg.xTicks,
          },
          motifLogo: { enabled: !!cfg.logo, fromPos: -7.9, toPos: 7.0, baseValue: 0.7065, topValue: 0.7530 },
        } as any,
      } as any,
      plugins: [axesPlugin, logoPlugin],
    } as any);
    return () => chart.destroy();
  }, []);
  return <canvas ref={ref} width={W} height={H} style={{ position: "absolute", left: 0, top: 0 }} />;
}

function Legend({
  x, lineW, y0, dy, textX, fontSize, colored, items,
}: {
  x: number; lineW: number; y0: number; dy: number; textX: number; fontSize: number; colored: boolean;
  items: { label: string; color: string }[];
}) {
  return (
    <>
      {items.map((it, i) => {
        const y = y0 + i * dy;
        return (
          <React.Fragment key={it.label}>
            <div style={{ position: "absolute", left: x, top: y - 1, width: lineW, height: 2, background: it.color }} />
            <div
              style={{
                position: "absolute", left: x + lineW / 2 - 2, top: y - 2, width: 4, height: 4,
                borderRadius: "50%", background: it.color,
              }}
            />
            <div
              style={{
                position: "absolute", left: textX, top: y - fontSize / 2 - 1,
                fontFamily: '"Liberation Sans", Arial, sans-serif', fontWeight: 700, fontSize,
                lineHeight: `${fontSize}px`, color: colored ? it.color : "#111", whiteSpace: "nowrap",
              }}
            >
              {it.label}
            </div>
          </React.Fragment>
        );
      })}
    </>
  );
}

const LETTER_STYLE: React.CSSProperties = {
  position: "absolute",
  fontFamily: '"Liberation Sans", Arial, sans-serif',
  fontWeight: 700,
  fontSize: 44,
  lineHeight: "44px",
  color: "#000",
};

export default function App() {
  const strandItems = [
    { label: "minus strand", color: MINUS_COLOR },
    { label: "plus strand", color: PLUS_COLOR },
  ];
  const qItems = ["Q1", "Q2", "Q3", "Q4", "Q5"].map((q, i) => ({ label: q, color: Q_COLORS[i] }));

  const panelA: PanelCfg = {
    xMin: -500, xMax: 500, left: 117.5, right: 521.5, top: 54.5, bottom: 491.3,
    yAxisX: 90, xAxisY: 518, minorStep: 0.01, majorLen: 8, minorLen: 4, xTicks: X_TICKS_WIDE,
    pointRadius: 2.4,
    datasets: [
      { label: "minus strand", color: MINUS_COLOR, data: wide(MINUS_A_LEFT, MINUS_B, MINUS_A_RIGHT) },
      { label: "plus strand", color: PLUS_COLOR, data: wide(PLUS_A_LEFT, PLUS_B, PLUS_A_RIGHT) },
    ],
  };
  const panelB: PanelCfg = {
    xMin: -100, xMax: 100, left: 728, right: 1390, top: 117, bottom: 487,
    yAxisX: 702, xAxisY: 514, minorStep: 0, majorLen: 8, minorLen: 0, xTicks: X_TICKS_NARROW,
    pointRadius: 2,
    logo: true,
    datasets: [
      { label: "minus strand", color: MINUS_COLOR, data: pts(POS_FINE, MINUS_B) },
      { label: "plus strand", color: PLUS_COLOR, data: pts(POS_FINE, PLUS_B) },
    ],
  };
  const panelC: PanelCfg = {
    xMin: -500, xMax: 500, left: 113.3, right: 516.3, top: 587.7, bottom: 1023.5,
    yAxisX: 86, xAxisY: 1051, minorStep: 0.01, majorLen: 8, minorLen: 4, xTicks: X_TICKS_WIDE,
    pointRadius: 2.4,
    datasets: [
      { label: "Q1", color: Q_COLORS[0], data: wide(Q1_C_LEFT, Q1_D, Q1_C_RIGHT) },
      { label: "Q2", color: Q_COLORS[1], data: wide(Q2_C_LEFT, Q2_D, Q2_C_RIGHT) },
      { label: "Q3", color: Q_COLORS[2], data: wide(Q3_C_LEFT, Q3_D, Q3_C_RIGHT) },
      { label: "Q4", color: Q_COLORS[3], data: wide(Q4_C_LEFT, Q4_D, Q4_C_RIGHT) },
      { label: "Q5", color: Q_COLORS[4], data: wide(Q5_C_LEFT, Q5_D, Q5_C_RIGHT) },
    ],
  };
  const panelD: PanelCfg = {
    xMin: -100, xMax: 100, left: 729.3, right: 1392, top: 651, bottom: 1020.7,
    yAxisX: 702, xAxisY: 1047, minorStep: 0, majorLen: 8, minorLen: 0, xTicks: X_TICKS_NARROW,
    pointRadius: 2,
    datasets: [
      { label: "Q1", color: Q_COLORS[0], data: pts(POS_FINE, Q1_D) },
      { label: "Q2", color: Q_COLORS[1], data: pts(POS_FINE, Q2_D) },
      { label: "Q3", color: Q_COLORS[2], data: pts(POS_FINE, Q3_D) },
      { label: "Q4", color: Q_COLORS[3], data: pts(POS_FINE, Q4_D) },
      { label: "Q5", color: Q_COLORS[4], data: pts(POS_FINE, Q5_D) },
    ],
  };

  return (
    <div style={{ position: "absolute", left: 0, top: 0, width: W, height: H, background: "#fff", overflow: "hidden" }}>
      <PanelChart cfg={panelA} />
      <PanelChart cfg={panelB} />
      <PanelChart cfg={panelC} />
      <PanelChart cfg={panelD} />
      <div style={{ ...LETTER_STYLE, left: 10, top: 3 }}>a</div>
      <div style={{ ...LETTER_STYLE, left: 634, top: 8 }}>b</div>
      <div style={{ ...LETTER_STYLE, left: 6, top: 573 }}>c</div>
      <div style={{ ...LETTER_STYLE, left: 637, top: 576 }}>d</div>
      <div
        style={{
          position: "absolute", left: 205, width: 200, top: 10, textAlign: "center",
          fontFamily: '"Liberation Sans", Arial, sans-serif', fontWeight: 700, fontSize: 20,
          lineHeight: "20px", color: "#333", whiteSpace: "nowrap",
        }}
      >
        {PANEL_TITLE}
      </div>
      <Legend x={128} lineW={22} y0={410} dy={17.5} textX={163} fontSize={17} colored items={strandItems} />
      <Legend x={738} lineW={24} y0={401.5} dy={18} textX={773} fontSize={17} colored items={strandItems} />
      <Legend x={123} lineW={22} y0={942.3} dy={17.5} textX={159} fontSize={16} colored={false} items={qItems} />
      <Legend x={740} lineW={24} y0={936} dy={17.4} textX={775} fontSize={16} colored={false} items={qItems} />
    </div>
  );
}
